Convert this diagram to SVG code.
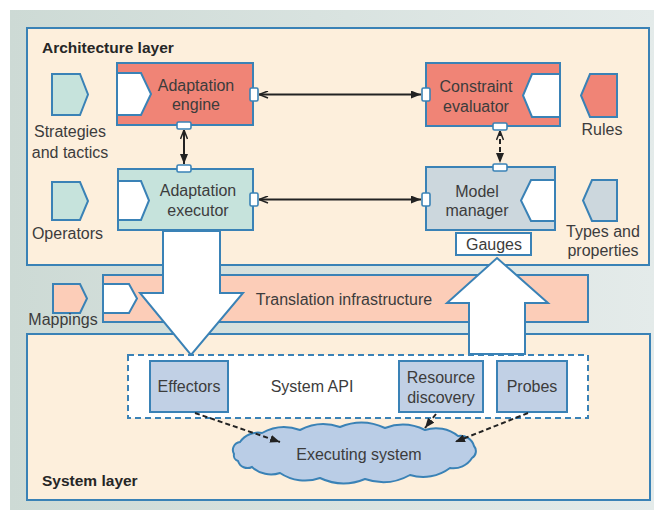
<svg xmlns="http://www.w3.org/2000/svg" width="654" height="510" viewBox="0 0 654 510">
<style>
.t{font-family:"Liberation Sans",Arial,sans-serif;font-size:16px;fill:#3c3c3c;text-anchor:middle}
.h{font-family:"Liberation Sans",Arial,sans-serif;font-size:15.5px;font-weight:bold;fill:#262626}
.bx{stroke:#3a82b6;stroke-width:2}
.wh{fill:#ffffff}
.red{fill:#f08476}
.teal{fill:#c6e3dc}
.grey{fill:#ccd7dd}
.peach{fill:#fccdb8}
.blue{fill:#c1d0e5}
.layer{fill:#fdefdc;stroke:#3a82b6;stroke-width:2}
.port{fill:#ffffff;stroke:#3a82b6;stroke-width:1.6}
.ln{stroke:#222;stroke-width:2;fill:none}
.dsh{stroke-dasharray:5 3}
</style>
<defs>
<linearGradient id="bg" x1="0" y1="0" x2="1" y2="0">
<stop offset="0" stop-color="#cddad5"/>
<stop offset="1" stop-color="#e4ebea"/>
</linearGradient>
<marker id="af" viewBox="0 0 10 8" refX="10" refY="4" markerWidth="5" markerHeight="4" orient="auto-start-reverse">
<path d="M0,0 L10,4 L0,8 z" fill="#222"/>
</marker>
<marker id="ao" viewBox="0 0 10 8" refX="9.5" refY="4" markerWidth="5" markerHeight="4" orient="auto-start-reverse">
<path d="M0.5,0.5 L9.5,4 L0.5,7.5" fill="none" stroke="#222" stroke-width="1.5"/>
</marker>
</defs>

<rect x="10" y="10" width="644" height="500" fill="url(#bg)"/>

<g id="architecture-layer">
<rect class="layer" x="27" y="28" width="622" height="237"/>
<text class="h" x="42" y="53">Architecture layer</text>
</g>

<g id="system-layer">
<rect class="layer" x="27" y="334" width="623" height="166"/>
<text class="h" x="42" y="486">System layer</text>
</g>

<g id="translation-infrastructure">
<rect class="bx peach" x="103" y="275" width="485" height="47"/>
<polygon class="bx wh" points="103,284 129,284 137,298.5 129,313 103,313"/>
<text class="t" x="344" y="305">Translation infrastructure</text>
</g>

<g id="mappings">
<polygon class="bx peach" points="53,284 80,284 87,298.5 80,313 53,313"/>
<text class="t" x="63" y="325">Mappings</text>
</g>

<g id="down-arrow">
<polygon class="bx wh" points="163,231 220,231 220,293 243,293 191,355 140,293 163,293"/>
</g>
<g id="up-arrow">
<polygon class="bx wh" points="497,258 548,303 525,303 525,354 469,354 469,303 447,303"/>
</g>

<g id="strategies">
<polygon class="bx teal" points="52,74 80,74 88,94.5 80,115 52,115"/>
<text class="t" x="70" y="137">Strategies</text>
<text class="t" x="70" y="157.5">and tactics</text>
</g>

<g id="operators">
<polygon class="bx teal" points="52,182 80,182 88,201 80,220 52,220"/>
<text class="t" x="67.5" y="239">Operators</text>
</g>

<g id="rules">
<polygon class="bx red" points="617,74 590,74 581,95.5 590,117 617,117"/>
<text class="t" x="602" y="135">Rules</text>
</g>

<g id="types">
<polygon class="bx grey" points="617,180 592,180 583,200.5 592,221 617,221"/>
<text class="t" x="603" y="237">Types and</text>
<text class="t" x="603" y="256">properties</text>
</g>

<g id="adaptation-engine">
<rect class="bx red" x="117" y="63" width="136" height="62"/>
<polygon class="bx wh" points="117,73 141,73 151,94 141,115 117,115"/>
<text class="t" x="196" y="90.5">Adaptation</text>
<text class="t" x="196" y="110">engine</text>
<rect class="port" x="250" y="88" width="8" height="13" rx="1.5"/>
<rect class="port" x="177" y="122" width="14" height="7" rx="1.5"/>
</g>

<g id="adaptation-executor">
<rect class="bx teal" x="118" y="169" width="135" height="61"/>
<polygon class="bx wh" points="118,181 141,181 149,200.5 141,220 118,220"/>
<text class="t" x="198" y="196">Adaptation</text>
<text class="t" x="198" y="216">executor</text>
<rect class="port" x="250" y="193" width="8" height="13" rx="1.5"/>
<rect class="port" x="177" y="165" width="14" height="7" rx="1.5"/>
</g>

<g id="constraint-evaluator">
<rect class="bx red" x="426" y="63" width="134" height="63"/>
<polygon class="bx wh" points="560,74 532,74 523,95.5 532,117 560,117"/>
<text class="t" x="476" y="91.5">Constraint</text>
<text class="t" x="476" y="111.5">evaluator</text>
<rect class="port" x="422" y="88" width="8" height="13" rx="1.5"/>
<rect class="port" x="493" y="123" width="14" height="7" rx="1.5"/>
</g>

<g id="model-manager">
<rect class="bx grey" x="426" y="167" width="129" height="63"/>
<polygon class="bx wh" points="555,180 531,180 521,200.5 531,221 555,221"/>
<text class="t" x="477" y="196.5">Model</text>
<text class="t" x="477" y="216">manager</text>
<rect class="port" x="422" y="193" width="8" height="13" rx="1.5"/>
<rect class="port" x="493" y="164" width="14" height="7" rx="1.5"/>
</g>

<g id="gauges">
<rect class="bx wh" x="456" y="233" width="75" height="22"/>
<text class="t" x="494" y="250">Gauges</text>
</g>

<g id="system-api">
<rect class="wh" x="128" y="355" width="460" height="63" stroke="#3a82b6" stroke-width="2" stroke-dasharray="6 4"/>
<text class="t" x="312" y="392">System API</text>
</g>

<g id="effectors">
<rect class="bx blue" x="150" y="361" width="78" height="51"/>
<text class="t" x="189" y="392">Effectors</text>
</g>

<g id="resource-discovery">
<rect class="bx blue" x="399" y="361" width="84" height="51"/>
<text class="t" x="441" y="383">Resource</text>
<text class="t" x="441" y="403">discovery</text>
</g>

<g id="probes">
<rect class="bx blue" x="497" y="361" width="70" height="51"/>
<text class="t" x="532" y="392">Probes</text>
</g>

<g id="executing-system">
<path class="bx" fill="#bacde6" d="M234,454 A8,8 0 0 1 240,442 A22,22 0 0 1 262,433 A45,45 0 0 1 300,430 A50,50 0 0 1 340,427 A55,55 0 0 1 385,428 A50,50 0 0 1 425,430 A35,35 0 0 1 458,436 A14,14 0 0 1 474,446 A8,8 0 0 1 472,458 A22,22 0 0 1 450,468 A45,45 0 0 1 410,475 A55,55 0 0 1 365,479 A55,55 0 0 1 320,478 A45,45 0 0 1 280,473 A28,28 0 0 1 252,467 A10,10 0 0 1 238,461 A6,6 0 0 1 234,454 Z"/>
<text class="t" x="359" y="460">Executing system</text>
</g>

<g id="connectors">
<line class="ln" x1="259" y1="94.5" x2="421" y2="94.5" marker-start="url(#ao)" marker-end="url(#af)"/>
<line class="ln" x1="259" y1="199.5" x2="421" y2="199.5" marker-start="url(#ao)" marker-end="url(#af)"/>
<line class="ln" x1="184" y1="130" x2="184" y2="164" marker-start="url(#ao)" marker-end="url(#af)"/>
<line class="ln dsh" x1="500" y1="131" x2="500" y2="163" marker-start="url(#ao)" marker-end="url(#af)"/>
<line class="ln dsh" x1="195" y1="413" x2="280" y2="442" marker-end="url(#af)"/>
<line class="ln dsh" x1="436" y1="414" x2="425" y2="428" marker-end="url(#af)"/>
<line class="ln dsh" x1="528" y1="413" x2="455" y2="442" marker-end="url(#af)"/>
</g>
</svg>
